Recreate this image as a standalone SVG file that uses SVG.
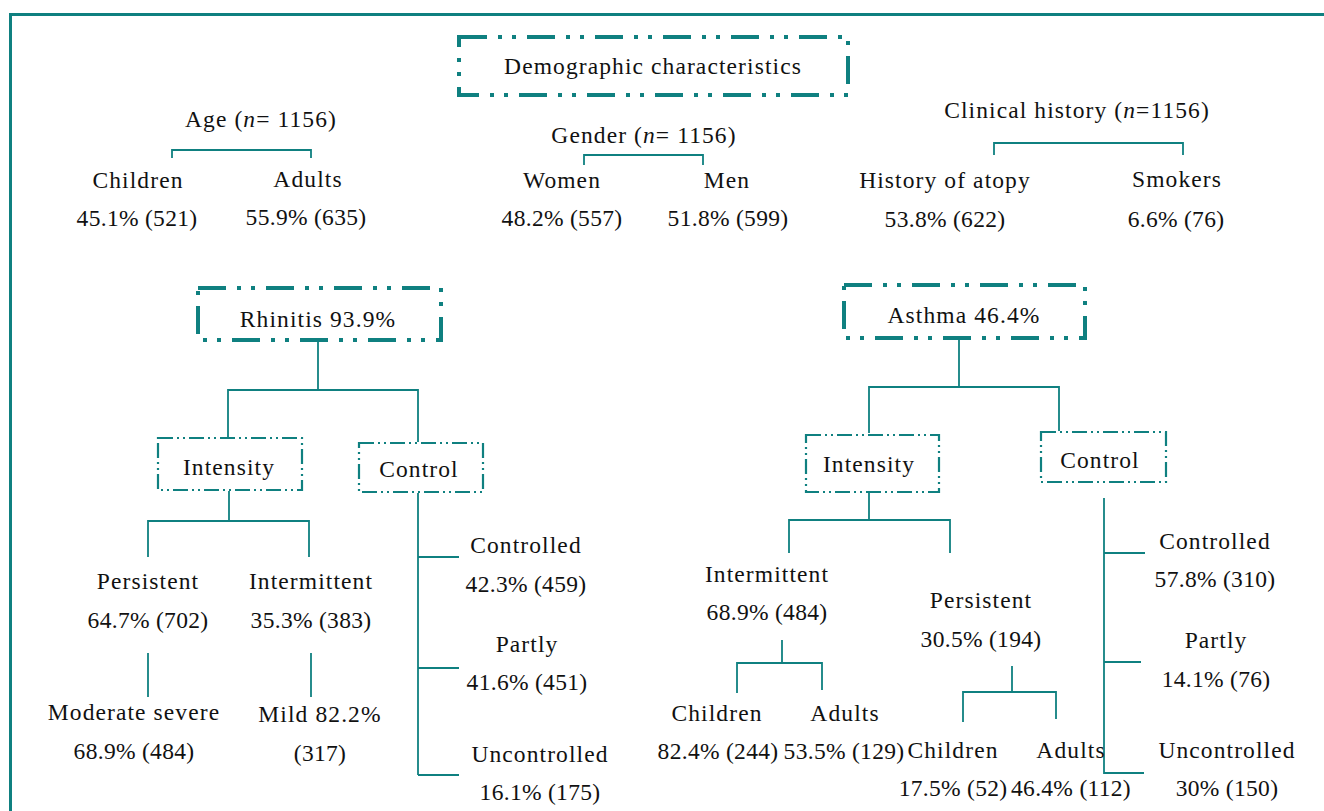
<svg xmlns="http://www.w3.org/2000/svg" width="1324" height="811" viewBox="0 0 1324 811">
<style>
text{font-family:"Liberation Serif","Times New Roman",serif;font-size:23.5px;fill:#111111;text-anchor:middle;letter-spacing:1.1px}
text.n{letter-spacing:0.3px}
.big{fill:none;stroke:#0f8080;stroke-width:4;stroke-dasharray:28 11 4 10 4 11}
.small{fill:none;stroke:#0f8080;stroke-width:2.2;stroke-dasharray:15 4 2 4 2 4}
.ln{fill:none;stroke:#0f8080;stroke-width:1.8}
.frame{fill:none;stroke:#0f8080;stroke-width:3}
</style>
<rect width="1324" height="811" fill="#ffffff"/>
<path class="frame" d="M10.5,811 V14.5 H1324"/>

<g id="connectors">
<path class="ln" d="M172,158 V150 H311 V158"/>
<path class="ln" d="M584,165 V155 H703 V165"/>
<path class="ln" d="M994,155 V143 H1183 V155"/>
<path class="ln" d="M318,342 V390"/>
<path class="ln" d="M228,437 V390 H418 V442"/>
<path class="ln" d="M229,491 V521"/>
<path class="ln" d="M148,557 V521 H309 V557"/>
<path class="ln" d="M148,653 V697"/>
<path class="ln" d="M311,653 V697"/>
<path class="ln" d="M418,493 V775"/>
<path class="ln" d="M418,557 H459 M418,668 H459 M418,775 H459"/>
<path class="ln" d="M959,340 V387"/>
<path class="ln" d="M869,433 V387 H1059 V431"/>
<path class="ln" d="M869,493 V520"/>
<path class="ln" d="M789,553 V520 H950 V553"/>
<path class="ln" d="M782,640 V663"/>
<path class="ln" d="M737,693 V663 H822 V690"/>
<path class="ln" d="M1012,666 V692"/>
<path class="ln" d="M963,722 V692 H1056 V719"/>
<path class="ln" d="M1104,498 V774"/>
<path class="ln" d="M1104,553 H1145 M1104,662 H1141 M1104,773 H1144"/>
</g>

<g id="demographic">
<rect class="big" x="459" y="37" width="389" height="58"/>
<text x="653" y="74">Demographic characteristics</text>
</g>

<g id="age">
<text x="261" y="127">Age (<tspan font-style="italic">n</tspan>= 1156)</text>
</g>
<g id="age-children">
<text x="138" y="188">Children</text>
<text class="n" x="137" y="226">45.1% (521)</text>
</g>
<g id="age-adults">
<text x="308" y="187">Adults</text>
<text class="n" x="306" y="225">55.9% (635)</text>
</g>

<g id="gender">
<text x="644" y="143">Gender (<tspan font-style="italic">n</tspan>= 1156)</text>
</g>
<g id="gender-women">
<text x="562" y="188">Women</text>
<text class="n" x="562" y="226">48.2% (557)</text>
</g>
<g id="gender-men">
<text x="727" y="188">Men</text>
<text class="n" x="728" y="226">51.8% (599)</text>
</g>

<g id="clinical">
<text x="1077" y="118">Clinical history (<tspan font-style="italic">n</tspan>=1156)</text>
</g>
<g id="clinical-atopy">
<text x="945" y="188">History of atopy</text>
<text class="n" x="945" y="227">53.8% (622)</text>
</g>
<g id="clinical-smokers">
<text x="1177" y="187">Smokers</text>
<text class="n" x="1176" y="227">6.6% (76)</text>
</g>

<g id="rhinitis">
<rect class="big" x="198" y="288" width="243" height="52"/>
<text x="318" y="327">Rhinitis 93.9%</text>
</g>
<g id="rhinitis-intensity">
<rect class="small" x="158" y="438" width="144" height="52"/>
<text x="229" y="475">Intensity</text>
</g>
<g id="rhinitis-control">
<rect class="small" x="359" y="443" width="124" height="49"/>
<text x="419" y="477">Control</text>
</g>
<g id="rhinitis-persistent">
<text x="148" y="589">Persistent</text>
<text class="n" x="148" y="628">64.7% (702)</text>
</g>
<g id="rhinitis-intermittent">
<text x="311" y="589">Intermittent</text>
<text class="n" x="311" y="628">35.3% (383)</text>
</g>
<g id="rhinitis-moderate">
<text x="134" y="720">Moderate severe</text>
<text class="n" x="134" y="759">68.9% (484)</text>
</g>
<g id="rhinitis-mild">
<text x="320" y="722">Mild 82.2%</text>
<text class="n" x="320" y="761">(317)</text>
</g>
<g id="rhinitis-controlled">
<text x="526" y="553">Controlled</text>
<text class="n" x="526" y="592">42.3% (459)</text>
</g>
<g id="rhinitis-partly">
<text x="527" y="652">Partly</text>
<text class="n" x="527" y="690">41.6% (451)</text>
</g>
<g id="rhinitis-uncontrolled">
<text x="540" y="762">Uncontrolled</text>
<text class="n" x="540" y="800">16.1% (175)</text>
</g>

<g id="asthma">
<rect class="big" x="844" y="285" width="241" height="53"/>
<text x="964" y="323">Asthma 46.4%</text>
</g>
<g id="asthma-intensity">
<rect class="small" x="806" y="435" width="133" height="57"/>
<text x="869" y="472">Intensity</text>
</g>
<g id="asthma-control">
<rect class="small" x="1041" y="432" width="125" height="50"/>
<text x="1100" y="468">Control</text>
</g>
<g id="asthma-intermittent">
<text x="767" y="582">Intermittent</text>
<text class="n" x="767" y="620">68.9% (484)</text>
</g>
<g id="asthma-persistent">
<text x="981" y="608">Persistent</text>
<text class="n" x="981" y="647">30.5% (194)</text>
</g>
<g id="asthma-int-children">
<text x="717" y="721">Children</text>
<text class="n" x="718" y="759">82.4% (244)</text>
</g>
<g id="asthma-int-adults">
<text x="845" y="721">Adults</text>
<text class="n" x="844" y="759">53.5% (129)</text>
</g>
<g id="asthma-per-children">
<text x="953" y="758">Children</text>
<text class="n" x="953" y="796">17.5% (52)</text>
</g>
<g id="asthma-per-adults">
<text x="1071" y="758">Adults</text>
<text class="n" x="1071" y="796">46.4% (112)</text>
</g>
<g id="asthma-controlled">
<text x="1215" y="549">Controlled</text>
<text class="n" x="1215" y="587">57.8% (310)</text>
</g>
<g id="asthma-partly">
<text x="1216" y="648">Partly</text>
<text class="n" x="1216" y="687">14.1% (76)</text>
</g>
<g id="asthma-uncontrolled">
<text x="1227" y="758">Uncontrolled</text>
<text class="n" x="1227" y="796">30% (150)</text>
</g>
</svg>
